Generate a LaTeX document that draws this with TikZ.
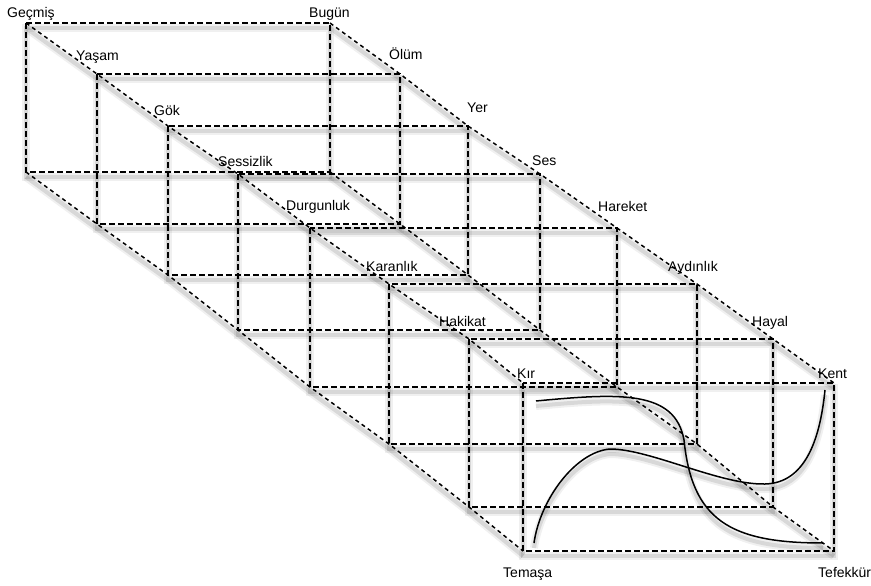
\documentclass[tikz,border=0pt]{standalone}
\usepackage{fontspec}
\setmainfont{Liberation Sans}

\begin{document}
\begin{tikzpicture}[x=1pt, y=-1pt, font=\fontsize{14}{16}\selectfont,
  shd/.style={preaction={draw=black, draw opacity=0.06, line width=8pt, solid, transform canvas={yshift=-5pt}},
              preaction={draw=black, draw opacity=0.10, line width=4pt, solid, transform canvas={yshift=-5pt}}},
  frame/.style={shd, draw, line width=1.5pt, dash pattern=on 6pt off 3pt},
  diag/.style={shd, draw, line width=1.5pt, dash pattern=on 4pt off 3.5pt},
  wave/.style={shd, draw, line width=1.5pt},
  lbl/.style={anchor=base west, inner sep=0pt}]
\useasboundingbox (0,0) rectangle (871,586);

% corners of the eight frames
\foreach \i/\xa/\ya/\xb/\yb in {1/26/23/330/172, 2/97/74/400/224, 3/168/126/468/275, 4/238/174/540/330,
    5/310/228/617/387, 6/389/284/697/444, 7/469/339/773/507, 8/523/383/834/551} {
  \coordinate (tl\i) at (\xa,\ya);
  \coordinate (tr\i) at (\xb,\ya);
  \coordinate (bl\i) at (\xa,\yb);
  \coordinate (br\i) at (\xb,\yb);
}

\foreach \i in {1,...,8}
  \path[frame] (tl\i) rectangle (br\i);

% diagonals through the corners
\foreach \c in {tl,tr,bl,br}
  \path[diag] (\c1) \foreach \i in {2,...,8} {-- (\c\i)};

% curves in the last frame
\path[wave] (536,401) .. controls (620,393) and (675,390) .. (684,440)
  .. controls (692,520) and (730,543) .. (823,543);
\path[wave] (534,543) .. controls (540,500) and (575,452) .. (610,449)
  .. controls (650,449) and (720,485) .. (765,484)
  .. controls (805,483) and (820,440) .. (825,390);

% labels
\node[lbl] (gecmis) at (7,18) {Geçmiş};
\node[lbl] (bugun) at (309,18) {Bugün};
\node[lbl] (yasam) at (76,61) {Yaşam};
\node[lbl] (olum) at (389,60) {Ölüm};
\node[lbl] (gok) at (154,115) {Gök};
\node[lbl] (yer) at (467,113) {Yer};
\node[lbl] (sessizlik) at (218,166) {Sessizlik};
\node[lbl] (ses) at (532,165) {Ses};
\node[lbl] (durgunluk) at (286,210) {Durgunluk};
\node[lbl] (hareket) at (598,211) {Hareket};
\node[lbl] (karanlik) at (366,271) {Karanlık};
\node[lbl] (aydinlik) at (668,271) {Aydınlık};
\node[lbl] (hakikat) at (439,326) {Hakikat};
\node[lbl] (hayal) at (752,326) {Hayal};
\node[lbl] (kir) at (517,378) {Kır};
\node[lbl] (kent) at (818,378) {Kent};
\node[lbl] (temasa) at (503,577) {Temaşa};
\node[lbl] (tefekkur) at (818,577) {Tefekkür};
\end{tikzpicture}
\end{document}
